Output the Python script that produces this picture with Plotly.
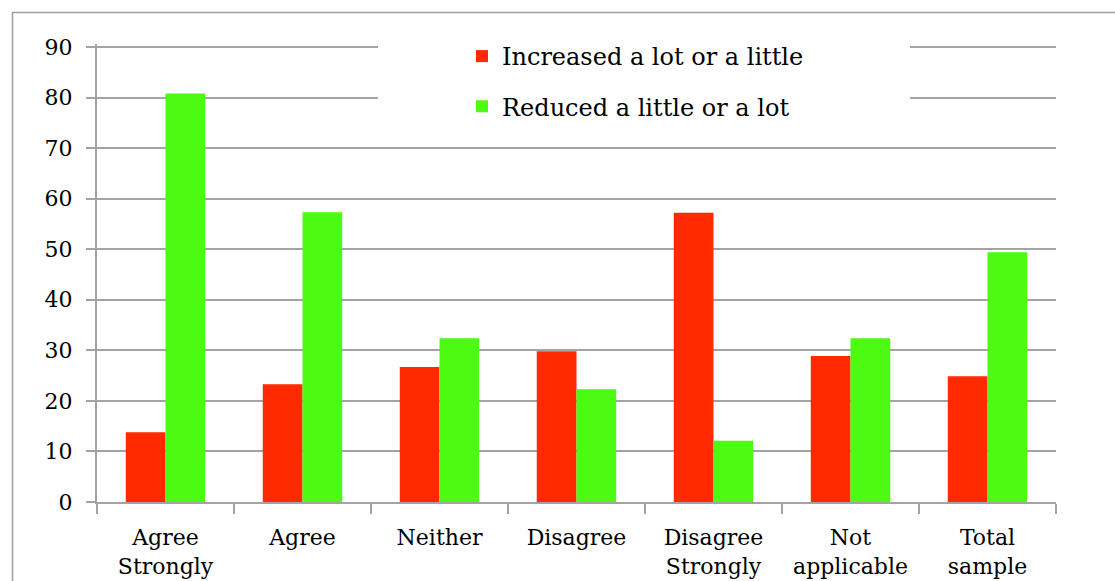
import plotly.graph_objects as go

categories = ["Agree<br>Strongly", "Agree", "Neither", "Disagree",
              "Disagree<br>Strongly", "Not<br>applicable", "Total<br>sample"]
increased = [13.8, 23.3, 26.7, 29.8, 57.2, 28.9, 24.9]
reduced = [80.8, 57.3, 32.4, 22.3, 12.1, 32.4, 49.4]
y_ticks = [0, 10, 20, 30, 40, 50, 60, 70, 80, 90]

RED = "#FF2A00"
GREEN = "#4CFA12"
GRID = "#A3A3A3"
FONT = "DejaVu Serif"

TOP = 44          # pixel row of the top of the plot area
PLOT_H = 581 - 79 - TOP

fig = go.Figure()
fig.add_trace(go.Bar(x=categories, y=increased, name="Increased a lot or a little",
                     marker=dict(color=RED, line=dict(width=0)), legendgroup="a"))
fig.add_trace(go.Bar(x=categories, y=reduced, name="Reduced a little or a lot",
                     marker=dict(color=GREEN, line=dict(width=0)), legendgroup="b"))

# white panel behind the legend, hiding the top gridlines
fig.add_shape(type="rect", xref="paper", yref="paper",
              x0=(378 - 97) / 959, x1=(910 - 97) / 959,
              y0=1 - (118 - TOP) / PLOT_H, y1=1 + (TOP - 35) / PLOT_H,
              fillcolor="white", line=dict(width=0), layer="above")

# outer chart frame
fig.add_shape(type="rect", xref="paper", yref="paper",
              x0=(12.5 - 97) / 959, x1=1.2,
              y0=-0.5, y1=1 + (TOP - 12.5) / PLOT_H,
              line=dict(color="#A0A0A0", width=1.5), fillcolor="rgba(0,0,0,0)",
              layer="above")

fig.update_layout(
    width=1115, height=581,
    margin=dict(l=97, r=59, t=TOP, b=79),
    paper_bgcolor="white", plot_bgcolor="white",
    barmode="group", bargap=0.42, bargroupgap=0,
    font=dict(family=FONT, size=22, color="black"),
    showlegend=True,
    legend=dict(x=(462 - 97) / 959, y=1 + (TOP - 34) / PLOT_H,
                xanchor="left", yanchor="top",
                bgcolor="rgba(0,0,0,0)", font=dict(family=FONT, size=24),
                tracegroupgap=16, itemwidth=30),
    xaxis=dict(showgrid=False, showline=True, linecolor=GRID, linewidth=2,
               ticks="outside", tickson="boundaries", ticklen=10,
               tickcolor=GRID, tickwidth=2, ticklabelstandoff=15,
               automargin=False,
               tickfont=dict(family=FONT, size=22), fixedrange=True),
    yaxis=dict(range=[0, 90.6], tickvals=y_ticks, showgrid=True,
               gridcolor=GRID, gridwidth=1.5,
               showline=True, linecolor=GRID, linewidth=2,
               ticks="outside", ticklen=9, tickcolor=GRID, tickwidth=1.5,
               ticklabelstandoff=9, automargin=False,
               tickfont=dict(family=FONT, size=22), zeroline=False),
)

fig.write_html("out.html")
